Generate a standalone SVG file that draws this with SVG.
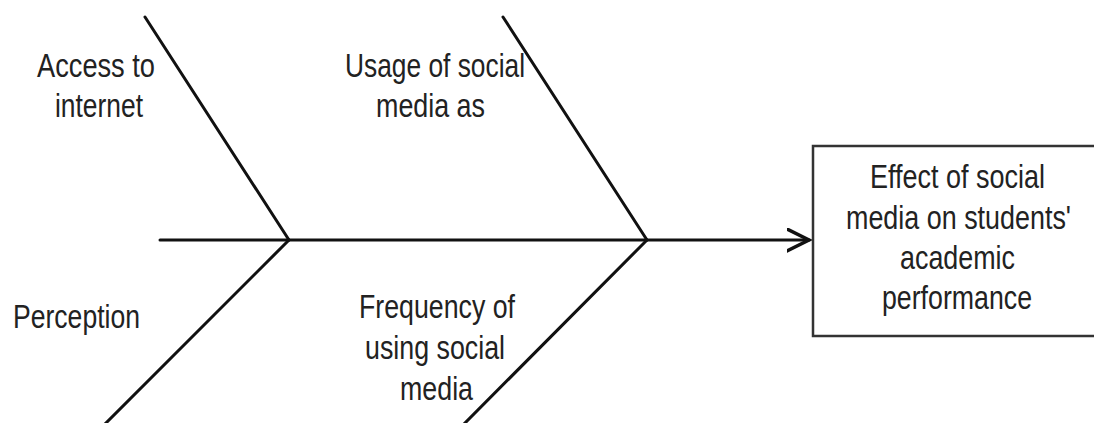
<svg xmlns="http://www.w3.org/2000/svg" width="1094" height="423" viewBox="0 0 1094 423">
<style>
.t{font-family:"Liberation Sans Narrow","Liberation Sans",Arial,sans-serif;font-size:34px;fill:#222;}
.ln{stroke:#111;stroke-width:3;fill:none;stroke-linecap:round;}
</style>
<defs>
<marker id="arr" markerWidth="30" markerHeight="30" refX="22" refY="12" orient="auto" markerUnits="userSpaceOnUse">
<path d="M0,1 L22,12 L0,23" fill="none" stroke="#111" stroke-width="3.5" stroke-linecap="round"/>
</marker>
</defs>
<rect width="1094" height="423" fill="#fff"/>
<g id="connectors">
<line class="ln" x1="160" y1="240" x2="809" y2="240" marker-end="url(#arr)"/>
<line class="ln" x1="145" y1="17" x2="289" y2="240"/>
<line class="ln" x1="503" y1="17" x2="647" y2="240"/>
<line class="ln" x1="289" y1="240" x2="103" y2="426"/>
<line class="ln" x1="647" y1="240" x2="462" y2="426"/>
</g>
<g id="access">
<text class="t" x="37" y="77" textLength="118" lengthAdjust="spacingAndGlyphs">Access to</text>
<text class="t" x="55" y="117" textLength="88" lengthAdjust="spacingAndGlyphs">internet</text>
</g>
<g id="usage">
<text class="t" x="345" y="77" textLength="180" lengthAdjust="spacingAndGlyphs">Usage of social</text>
<text class="t" x="376" y="117" textLength="109" lengthAdjust="spacingAndGlyphs">media as</text>
</g>
<g id="perception">
<text class="t" x="13" y="328" textLength="127" lengthAdjust="spacingAndGlyphs">Perception</text>
</g>
<g id="frequency">
<text class="t" x="359" y="318" textLength="156" lengthAdjust="spacingAndGlyphs">Frequency of</text>
<text class="t" x="365" y="359" textLength="140" lengthAdjust="spacingAndGlyphs">using social</text>
<text class="t" x="400" y="400" textLength="73" lengthAdjust="spacingAndGlyphs">media</text>
</g>
<g id="effect">
<rect x="813" y="146" width="290" height="190" fill="#fff" stroke="#333" stroke-width="2.5"/>
<text class="t" x="870" y="188" textLength="175" lengthAdjust="spacingAndGlyphs">Effect of social</text>
<text class="t" x="846" y="229" textLength="225" lengthAdjust="spacingAndGlyphs">media on students'</text>
<text class="t" x="900" y="269" textLength="115" lengthAdjust="spacingAndGlyphs">academic</text>
<text class="t" x="882" y="309" textLength="150" lengthAdjust="spacingAndGlyphs">performance</text>
</g>
</svg>
